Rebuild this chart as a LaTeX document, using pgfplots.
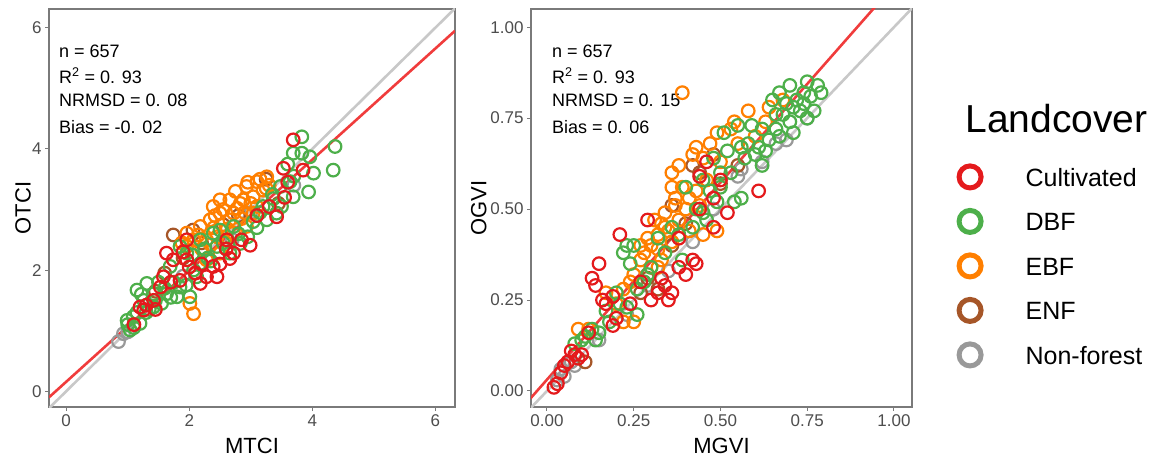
\documentclass[border=0pt]{standalone}
\usepackage{fontspec}
\setmainfont{Liberation Sans}
\usepackage{pgfplots}
\pgfplotsset{compat=1.18}
\definecolor{cult}{HTML}{E41A1C}
\definecolor{dbf}{HTML}{4DAF4A}
\definecolor{ebf}{HTML}{FF7F00}
\definecolor{enf}{HTML}{A65628}
\definecolor{nonf}{HTML}{999999}
\definecolor{regred}{HTML}{F03C3C}
\definecolor{oneline}{HTML}{C8C8C8}
\definecolor{tickgray}{HTML}{4D4D4D}
\definecolor{boxgray}{HTML}{7A7A7A}
\pgfplotsset{
  myax/.style={
    scale only axis, height=398pt,
    tick align=outside, tick pos=left, major tick length=4pt,
    every tick/.style={boxgray, line width=1pt},
    axis line style={boxgray, line width=1.3pt},
    /pgf/number format/assume math mode=true,
    ticklabel style={font=\fontsize{17}{20}\selectfont, text=tickgray},
    label style={font=\fontsize{22}{26}\selectfont},
    xlabel style={at={(axis description cs:0.5,-0.1156)}, anchor=base},
  },
  pts/.style={only marks, mark=o, mark size=6.3pt, line width=2.2pt, forget plot},
}
\tikzset{annot/.style={anchor=base west, inner sep=0pt, font=\fontsize{18}{20}\selectfont}}
\begin{document}
\begin{tikzpicture}
\useasboundingbox (0,0) rectangle (1162pt,458pt);
% ---------------- left panel ----------------
\begin{axis}[myax, at={(49pt,51pt)}, anchor=south west, width=406pt,
  xmin=-0.28, xmax=6.32, ymin=-0.26, ymax=6.31,
  xtick={0,2,4,6}, ytick={0,2,4,6},
  xlabel={MTCI}, ylabel={OTCI},
  ylabel style={at={(axis description cs:-0.045,0.5)}, anchor=base},
]
\addplot[pts, nonf] table {
0.85 0.82
0.93 0.95
1.00 0.98
2.70 2.50
3.00 2.95
1.90 1.90
3.70 3.40
};
\addplot[pts, enf] table {
1.74 2.58
2.06 2.66
1.90 2.20
2.55 2.75
3.45 3.10
1.60 1.95
2.20 2.45
2.80 2.90
3.25 3.50
1.45 1.65
};
\addplot[pts, ebf] table {
2.07 1.28
2.01 1.45
3.26 3.54
3.10 3.46
2.93 3.38
3.04 3.21
3.20 3.32
2.50 3.16
2.66 3.16
2.83 3.10
2.72 2.94
2.50 2.94
2.34 2.83
2.18 2.72
2.28 2.50
2.07 2.50
1.96 2.61
2.72 2.61
2.93 2.72
3.04 2.94
2.28 2.17
2.50 2.28
2.39 3.05
2.66 2.83
2.88 3.16
1.96 2.39
3.30 3.40
2.20 2.35
2.60 2.55
2.40 2.70
3.10 3.05
2.90 2.95
2.45 2.55
2.55 3.00
2.75 3.30
2.95 3.45
3.15 3.50
3.25 3.35
2.85 2.85
2.62 2.68
2.35 2.42
2.15 2.58
2.42 2.90
3.00 3.10
2.78 3.02
1.88 2.45
};
\addplot[pts, dbf] table {
3.83 4.20
3.69 3.93
3.83 3.93
3.96 3.87
4.37 4.04
4.34 3.65
4.02 3.60
3.94 3.29
3.69 3.21
3.64 3.46
3.48 3.38
3.37 3.18
3.42 2.94
3.26 2.83
3.04 2.80
2.50 2.66
2.72 2.72
2.66 2.28
2.45 2.39
2.83 2.44
1.85 2.39
1.96 2.28
1.69 2.06
2.07 2.00
2.18 2.11
1.31 1.78
1.15 1.67
1.42 1.61
1.26 1.50
1.63 1.61
1.80 1.56
2.01 1.56
1.55 1.45
1.85 1.72
0.99 1.17
1.09 1.23
1.20 1.12
1.42 1.39
1.04 1.01
2.12 1.89
2.39 2.61
2.18 2.50
3.60 3.75
3.15 2.95
1.10 1.05
1.35 1.35
2.30 2.20
2.55 2.45
1.75 1.80
1.30 1.30
1.45 1.50
1.60 1.70
1.70 1.55
1.95 1.75
2.05 2.25
2.25 2.35
2.35 2.15
2.60 2.35
2.80 2.60
2.95 2.55
3.10 2.70
3.20 3.05
3.35 3.25
3.50 3.05
3.70 3.55
1.15 1.30
1.00 1.10
1.50 1.80
1.22 1.60
};
\addplot[pts, cult] table {
3.69 4.15
3.53 3.68
3.85 3.65
3.42 2.88
2.99 2.41
2.66 2.19
2.39 2.06
2.28 1.89
2.18 1.78
1.96 2.17
1.74 2.17
1.58 1.89
1.53 1.72
1.42 1.50
1.20 1.39
1.26 1.34
1.96 2.50
2.72 2.28
2.45 1.89
1.85 1.83
1.63 2.28
2.61 2.50
3.30 3.05
3.55 3.20
2.10 1.95
1.30 1.42
2.50 2.10
2.60 2.35
2.85 2.50
2.20 2.10
2.00 2.05
1.70 1.80
1.45 1.35
1.10 1.10
3.10 2.90
3.60 3.45
1.90 2.30
};
\addplot[oneline, line width=2.6pt, forget plot] coordinates {(-0.3,-0.3) (6.4,6.4)};
\addplot[regred, line width=2.6pt, forget plot] coordinates {(-0.28,-0.10) (6.32,5.95)};
\node[annot] at (axis description cs:0.0246,0.879) {n = 657};
\node[annot] at (axis description cs:0.0246,0.814) {R\textsuperscript{2} = 0. 93};
\node[annot] at (axis description cs:0.0246,0.754) {NRMSD = 0. 08};
\node[annot] at (axis description cs:0.0246,0.686) {Bias = -0. 02};
\end{axis}
% ---------------- right panel ----------------
\begin{axis}[myax, at={(531pt,51pt)}, anchor=south west, width=381pt,
  xmin=-0.046, xmax=1.052, ymin=-0.044, ymax=1.05,
  xtick={0,0.25,0.5,0.75,1}, xticklabels={0.00,0.25,0.50,0.75,1.00},
  ytick={0,0.25,0.5,0.75,1}, yticklabels={0.00,0.25,0.50,0.75,1.00},
  xlabel={MGVI}, ylabel={OGVI},
  ylabel style={at={(axis description cs:-0.117,0.5)}, anchor=base},
  legend image code/.code={\draw[#1, line width=5pt, fill=none] (0pt,1.5pt) circle (11pt);},
  legend style={at={(axis description cs:1.117,0.612)}, anchor=north west,
    draw=none, fill=none, inner sep=0pt, outer sep=0pt,
    font=\fontsize{25}{30}\selectfont, row sep=17.5pt,
    nodes={inner sep=0pt},
    /tikz/every odd column/.append style={column sep=42pt}},
  legend cell align=left,
]
\addplot[pts, nonf] table {
0.04 0.06
0.05 0.04
0.03 0.03
0.07 0.08
0.56 0.61
0.55 0.59
0.69 0.69
0.23 0.21
0.29 0.29
0.75 0.75
0.35 0.33
0.42 0.41
0.48 0.50
0.62 0.63
0.66 0.68
0.08 0.07
0.15 0.14
};
\addplot[pts, enf] table {
0.48 0.65
0.44 0.60
0.36 0.51
0.29 0.31
0.32 0.28
0.11 0.08
0.50 0.57
0.42 0.62
0.40 0.46
0.27 0.27
0.55 0.62
0.36 0.40
};
\addplot[pts, ebf] table {
0.39 0.82
0.58 0.77
0.64 0.78
0.68 0.80
0.54 0.74
0.49 0.71
0.43 0.67
0.42 0.65
0.36 0.60
0.36 0.56
0.39 0.56
0.41 0.53
0.37 0.53
0.34 0.49
0.31 0.47
0.34 0.45
0.32 0.43
0.29 0.42
0.28 0.38
0.32 0.39
0.36 0.41
0.41 0.44
0.45 0.43
0.49 0.44
0.30 0.34
0.25 0.32
0.22 0.28
0.17 0.27
0.25 0.19
0.22 0.19
0.09 0.17
0.32 0.34
0.37 0.51
0.44 0.51
0.53 0.72
0.47 0.68
0.27 0.36
0.33 0.46
0.30 0.40
0.33 0.36
0.35 0.44
0.38 0.47
0.40 0.50
0.43 0.55
0.46 0.58
0.50 0.63
0.55 0.68
0.60 0.70
0.63 0.74
0.27 0.40
0.24 0.30
0.20 0.24
0.12 0.17
0.38 0.62
0.45 0.64
};
\addplot[pts, dbf] table {
0.70 0.84
0.75 0.85
0.78 0.84
0.79 0.82
0.76 0.81
0.72 0.80
0.67 0.82
0.65 0.80
0.73 0.77
0.77 0.77
0.75 0.75
0.70 0.74
0.66 0.72
0.71 0.71
0.67 0.70
0.64 0.69
0.61 0.67
0.62 0.72
0.59 0.73
0.55 0.73
0.51 0.71
0.52 0.66
0.50 0.60
0.45 0.58
0.40 0.56
0.48 0.64
0.56 0.67
0.56 0.53
0.54 0.52
0.49 0.52
0.45 0.49
0.42 0.45
0.39 0.36
0.23 0.40
0.25 0.40
0.22 0.38
0.24 0.35
0.26 0.28
0.20 0.27
0.17 0.22
0.23 0.23
0.26 0.21
0.15 0.16
0.11 0.15
0.08 0.13
0.32 0.42
0.36 0.45
0.29 0.32
0.13 0.17
0.10 0.14
0.60 0.65
0.68 0.76
0.74 0.79
0.58 0.68
0.63 0.66
0.66 0.76
0.71 0.78
0.74 0.82
0.69 0.79
0.53 0.60
0.47 0.55
0.43 0.50
0.38 0.43
0.34 0.38
0.30 0.34
0.28 0.30
0.21 0.24
0.18 0.19
0.14 0.14
0.57 0.64
0.62 0.62
0.46 0.47
0.50 0.56
};
\addplot[pts, cult] table {
0.61 0.55
0.29 0.47
0.21 0.43
0.42 0.36
0.43 0.35
0.40 0.32
0.34 0.29
0.36 0.27
0.35 0.25
0.32 0.27
0.30 0.25
0.15 0.35
0.13 0.31
0.14 0.29
0.16 0.25
0.19 0.26
0.20 0.20
0.19 0.18
0.07 0.11
0.08 0.10
0.06 0.08
0.02 0.01
0.03 0.02
0.48 0.53
0.52 0.49
0.48 0.45
0.44 0.59
0.09 0.09
0.05 0.07
0.27 0.30
0.38 0.42
0.46 0.63
0.10 0.10
0.04 0.05
0.24 0.24
0.33 0.31
0.38 0.34
0.44 0.50
0.50 0.58
0.17 0.24
0.12 0.16
};
\addplot[oneline, line width=2.6pt, forget plot] coordinates {(-0.1,-0.1) (1.1,1.1)};
\addplot[regred, line width=2.6pt, forget plot] coordinates {(-0.05,-0.023) (1.05,1.169)};
\node[annot] at (axis description cs:0.055,0.879) {n = 657};
\node[annot] at (axis description cs:0.055,0.814) {R\textsuperscript{2} = 0. 93};
\node[annot] at (axis description cs:0.055,0.754) {NRMSD = 0. 15};
\node[annot] at (axis description cs:0.055,0.686) {Bias = 0. 06};
\addlegendimage{draw=cult}
\addlegendentry{Cultivated}
\addlegendimage{draw=dbf}
\addlegendentry{DBF}
\addlegendimage{draw=ebf}
\addlegendentry{EBF}
\addlegendimage{draw=enf}
\addlegendentry{ENF}
\addlegendimage{draw=nonf}
\addlegendentry{Non-forest}
\end{axis}
\node[anchor=base west, font=\fontsize{39}{44}\selectfont] at (962pt,325pt) {Landcover};
\end{tikzpicture}
\end{document}
